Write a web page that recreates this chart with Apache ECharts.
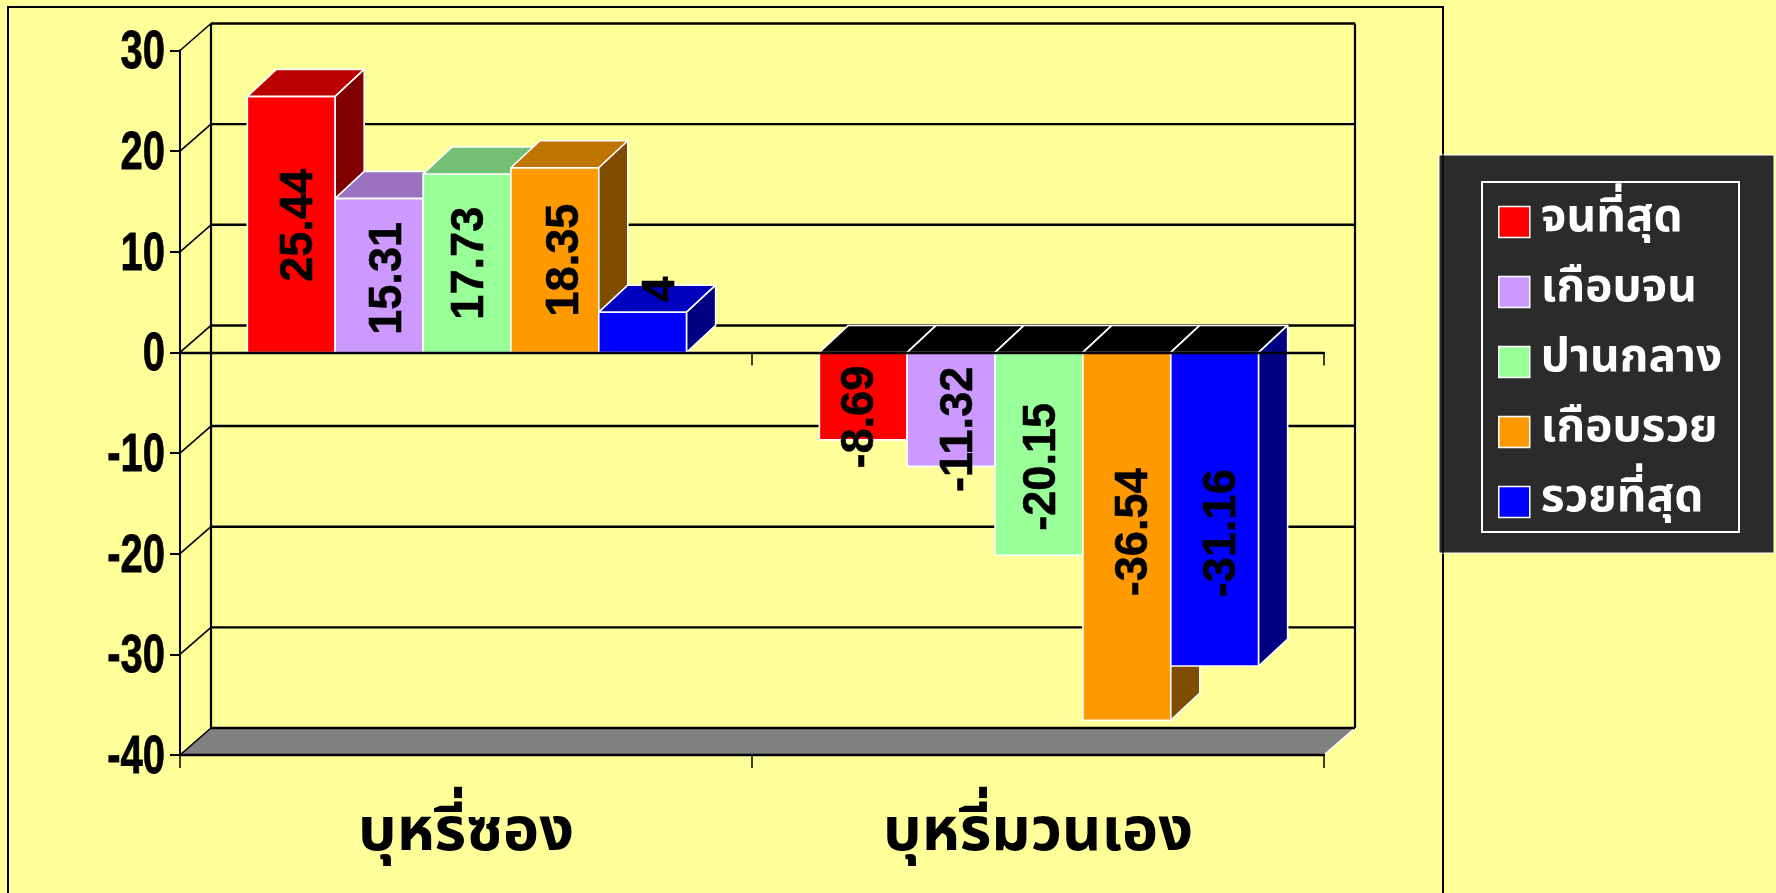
<!DOCTYPE html>
<html>
<head>
<meta charset="utf-8">
<style>
  html, body { margin: 0; padding: 0; background: #FFFF99; overflow: hidden; }
  #chart { width: 1776px; height: 893px; }
</style>
<script src="https://cdn.jsdelivr.net/npm/echarts@6/dist/echarts.min.js"></script>
</head>
<body>
<div id="chart"></div>
<script>
// data
var categories = ['บุหรี่ซอง', 'บุหรี่มวนเอง'];
var seriesNames = ['จนที่สุด', 'เกือบจน', 'ปานกลาง', 'เกือบรวย', 'รวยที่สุด'];
var poorest = [25.44, -8.69];
var nearPoor = [15.31, -11.32];
var middle = [17.73, -20.15];
var nearRich = [18.35, -36.54];
var richest = [4, -31.16];
var yTicks = [-40, -30, -20, -10, 0, 10, 20, 30];

var allValues = [poorest, nearPoor, middle, nearRich, richest];

// front, top, side shades of each bar
var shades = [
  ['#FF0000', '#BB0000', '#800000'],
  ['#CC99FF', '#9A72C0', '#664C80'],
  ['#99FF99', '#73BF73', '#4C804C'],
  ['#FF9900', '#BF7300', '#804C00'],
  ['#0000FF', '#0000BF', '#000080']
];

var DX = 29, DY = 27;         // bar depth
var WALL_DX = 31, WALL_DY = 27;
var LINE = '#000';
var thaiFont = '"Noto Sans Thai", "Noto Sans", "Liberation Sans", sans-serif';

// hand placed labels, the original ones are not centred on every bar
var labelShift = [
  [[8, 1], [-3, 21]],
  [[9, 3], [8, 20]],
  [[3, 0], [3, 13]],
  [[10, 0], [7, -4]],
  [[18, -43], [7, 24]]
];

function poly(points, fill) {
  return {
    type: 'polygon',
    shape: { points: points },
    style: { fill: fill, stroke: '#fff', lineWidth: 1.6, lineJoin: 'round' }
  };
}

function barRenderer(si) {
  return function (params, api) {
    var cat = api.value(0), val = api.value(1);
    var band = api.size([1, 0])[0];
    var w = band * 0.768 / 5;
    var center = api.coord([cat, 0]);
    var x0 = center[0] + 1 - w * 2.5 + si * w, x1 = x0 + w;
    var y0 = center[1], yv = api.coord([cat, val])[1];
    var yTop = Math.min(y0, yv), yBot = Math.max(y0, yv);
    var c = shades[si];
    var shift = labelShift[si][cat];
    return {
      type: 'group',
      children: [
        poly([[x0, yBot], [x1, yBot], [x1, yTop], [x0, yTop]], c[0]),
        poly([[x0, yTop], [x0 + DX, yTop - DY], [x1 + DX, yTop - DY], [x1, yTop]], val < 0 ? '#000' : c[1]),
        poly([[x1, yBot], [x1 + DX, yBot - DY], [x1 + DX, yTop - DY], [x1, yTop]], c[2]),
        {
          type: 'text',
          x: (x0 + x1) / 2 + shift[0],
          y: (yTop + yBot) / 2 + shift[1],
          rotation: Math.PI / 2,
          scaleX: 0.96,
          style: {
            text: String(val),
            fill: '#000',
            stroke: '#000',
            lineWidth: 0.6,
            font: 'bold 47px "Liberation Sans", Arial, sans-serif',
            align: 'center',
            verticalAlign: 'middle'
          }
        }
      ]
    };
  };
}

function wallRenderer(params, api) {
  var v = api.value(0);
  var cs = params.coordSys;
  var y = api.coord([0, v])[1];
  var xl = cs.x, xr = cs.x + cs.width;
  var bx = xl + WALL_DX, by = y - WALL_DY, brx = xr + WALL_DX;
  var kids = [];
  if (v === yTicks[0]) {
    var topY = api.coord([0, yTicks[yTicks.length - 1]])[1] - WALL_DY;
    kids.push({
      type: 'polygon',
      shape: { points: [[xl, y], [bx, by], [brx, by], [xr, y]] },
      style: { fill: '#808080', stroke: null }
    });
    kids.push({ type: 'line', shape: { x1: xr, y1: y, x2: brx, y2: by }, style: { stroke: '#fff', lineWidth: 1.5 } });
    kids.push({ type: 'line', shape: { x1: bx, y1: topY, x2: bx, y2: by }, style: { stroke: LINE, lineWidth: 2.2 } });
    kids.push({ type: 'line', shape: { x1: brx, y1: topY, x2: brx, y2: by }, style: { stroke: LINE, lineWidth: 2.2 } });
  }
  kids.push({ type: 'line', shape: { x1: xl, y1: y, x2: bx, y2: by }, style: { stroke: LINE, lineWidth: 1.6 } });
  kids.push({ type: 'line', shape: { x1: bx, y1: by, x2: brx, y2: by }, style: { stroke: LINE, lineWidth: 2.4 } });
  // tick label, the original digits are condensed so the axis label cannot do it
  kids.push({
    type: 'text',
    x: xl - 15,
    y: y + 3,
    scaleX: 0.74,
    style: {
      text: String(v),
      fill: '#000',
      stroke: '#000',
      lineWidth: 0.8,
      font: 'bold 54px "Liberation Sans", Arial, sans-serif',
      align: 'right',
      verticalAlign: 'middle'
    }
  });
  return { type: 'group', children: kids };
}

var series = [{
  type: 'custom',
  name: 'wall',
  coordinateSystem: 'cartesian2d',
  renderItem: wallRenderer,
  data: yTicks.map(function (v) { return [v]; }),
  encode: { y: 0 },
  clip: false,
  silent: true,
  z: 1
}];

seriesNames.forEach(function (name, si) {
  series.push({
    type: 'custom',
    name: name,
    coordinateSystem: 'cartesian2d',
    renderItem: barRenderer(si),
    data: allValues[si].map(function (v, i) { return [i, v]; }),
    encode: { x: 0, y: 1 },
    itemStyle: { color: shades[si][0] },
    clip: false,
    z: 2 + si
  });
});

var myChart = echarts.init(document.getElementById('chart'));
myChart.setOption({
  animation: false,
  backgroundColor: '#FFFF99',
  grid: { left: 180, right: 452, top: 50.5, bottom: 138, containLabel: false },
  xAxis: [
    {
      type: 'category',
      data: categories,
      position: 'bottom',
      z: 10,
      axisLine: { onZero: true, lineStyle: { color: LINE, width: 2.4 } },
      axisTick: { show: true, length: 13, lineStyle: { color: LINE, width: 1.5 } },
      axisLabel: { show: false },
      splitLine: { show: false }
    },
    {
      type: 'category',
      data: categories,
      position: 'bottom',
      z: 10,
      axisLine: { onZero: false, lineStyle: { color: LINE, width: 2.4 } },
      axisTick: { show: true, length: 13, lineStyle: { color: LINE, width: 1.5 } },
      axisLabel: {
        color: '#000',
        fontFamily: thaiFont,
        fontWeight: 'bold',
        fontSize: 61,
        margin: 52,
        interval: 0
      },
      splitLine: { show: false }
    }
  ],
  yAxis: {
    type: 'value',
    min: -40,
    max: 30,
    interval: 10,
    z: 10,
    axisLine: { show: true, onZero: false, lineStyle: { color: LINE, width: 2 } },
    axisTick: { show: true, length: 10, lineStyle: { color: LINE, width: 2 } },
    axisLabel: { show: false },
    splitLine: { show: false }
  },
  legend: {
    orient: 'vertical',
    left: 1498,
    top: 199,
    padding: 0,
    icon: 'rect',
    itemWidth: 31,
    itemHeight: 31,
    itemGap: 24,
    z: 20,
    data: seriesNames,
    selectedMode: false,
    itemStyle: { borderColor: '#fff', borderWidth: 1.5 },
    textStyle: {
      color: '#fff',
      fontFamily: thaiFont,
      fontWeight: 'bold',
      fontSize: 46,
      height: 31,
      lineHeight: 31,
      padding: [0, 0, 0, 6]
    }
  },
  graphic: [
    { type: 'rect', z: 0, shape: { x: 8, y: 7, width: 1435, height: 920 }, style: { fill: 'none', stroke: '#000', lineWidth: 2 } },
    { type: 'rect', z: 15, shape: { x: 1439, y: 155, width: 335, height: 398 }, style: { fill: '#2B2B2B', stroke: '#fff', lineWidth: 1 } },
    { type: 'line', z: 16, shape: { x1: 1443, y1: 155, x2: 1443, y2: 553 }, style: { stroke: '#000', lineWidth: 1.5 } },
    { type: 'rect', z: 16, shape: { x: 1482, y: 182, width: 257, height: 350 }, style: { fill: 'none', stroke: '#fff', lineWidth: 2 } }
  ],
  series: series
});
</script>
</body>
</html>
